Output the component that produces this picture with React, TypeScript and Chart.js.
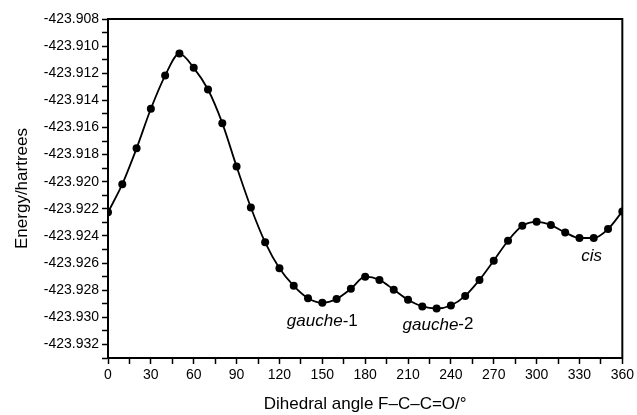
import React, { useEffect, useRef } from "react";
import { Chart, registerables } from "chart.js";

Chart.register(...registerables);

const angles = [0, 10, 20, 30, 40, 50, 60, 70, 80, 90, 100, 110, 120, 130, 140, 150, 160, 170, 180, 190, 200, 210, 220, 230, 240, 250, 260, 270, 280, 290, 300, 310, 320, 330, 340, 350, 360];
const energies = [
  -423.92226, -423.92018, -423.91754, -423.91462, -423.91217, -423.91055, -423.9116, -423.9132, -423.91568, -423.91888,
  -423.9219, -423.92447, -423.92638, -423.92768, -423.92859, -423.92893, -423.92864, -423.9279, -423.927, -423.92724,
  -423.92796, -423.92871, -423.9292, -423.92935, -423.92913, -423.92842, -423.92724, -423.92582, -423.92435, -423.92325,
  -423.92296, -423.9232, -423.92374, -423.92415, -423.92415, -423.92349, -423.92219,
];
const xTickLabels = [0, 30, 60, 90, 120, 150, 180, 210, 240, 270, 300, 330, 360];
const yTickLabels = [-423.908, -423.91, -423.912, -423.914, -423.916, -423.918, -423.92, -423.922, -423.924, -423.926, -423.928, -423.93, -423.932];
const annotations = [
  { italic: "gauche", plain: "-1", x: 150, y: -423.93026 },
  { italic: "gauche", plain: "-2", x: 231, y: -423.93055 },
  { italic: "cis", plain: "", x: 338.5, y: -423.92548 },
];

const FONT = "'Liberation Sans', Arial, Helvetica, sans-serif";

const framePlugin = {
  id: "frameAndLabels",
  afterDatasetsDraw(chart: any) {
    const { ctx, chartArea } = chart;
    ctx.save();
    ctx.strokeStyle = "#000";
    ctx.lineWidth = 2;
    ctx.strokeRect(chartArea.left, chartArea.top, chartArea.right - chartArea.left, chartArea.bottom - chartArea.top);
    const xs = chart.scales.x;
    const ys = chart.scales.y;
    ctx.fillStyle = "#000";
    ctx.textBaseline = "middle";
    for (const a of annotations) {
      ctx.font = `italic 17px ${FONT}`;
      const w1 = ctx.measureText(a.italic).width;
      ctx.font = `17px ${FONT}`;
      const w2 = ctx.measureText(a.plain).width;
      const cx = xs.getPixelForValue(a.x);
      const cy = ys.getPixelForValue(a.y);
      const sx = cx - (w1 + w2) / 2;
      ctx.textAlign = "left";
      ctx.font = `italic 17px ${FONT}`;
      ctx.fillText(a.italic, sx, cy);
      ctx.font = `17px ${FONT}`;
      ctx.fillText(a.plain, sx + w1, cy);
    }
    ctx.restore();
  },
};

export default function App() {
  const ref = useRef<HTMLCanvasElement | null>(null);
  useEffect(() => {
    document.body.style.margin = "0";
    const canvas = ref.current;
    if (!canvas) return;
    const chart = new Chart(canvas, {
      type: "line",
      data: {
        datasets: [
          {
            data: angles.map((a, i) => ({ x: a, y: energies[i] })),
            borderColor: "#000",
            backgroundColor: "#000",
            borderWidth: 1.8,
            pointRadius: 4,
            pointBackgroundColor: "#000",
            pointBorderWidth: 0,
            cubicInterpolationMode: "monotone",
            fill: false,
          },
        ],
      },
      options: {
        animation: false,
        responsive: false,
        maintainAspectRatio: false,
        layout: { padding: { top: 19, right: 14, bottom: 0, left: 0 } },
        plugins: { legend: { display: false }, tooltip: { enabled: false } },
        scales: {
          x: {
            type: "linear",
            min: 0,
            max: 360,
            afterFit: (s: any) => {
              s.height = 57;
            },
            ticks: {
              stepSize: 15,
              autoSkip: false,
              maxRotation: 0,
              padding: 3,
              color: "#000",
              font: { family: FONT, size: 14 },
              callback: (v: any) => (xTickLabels.includes(Math.round(Number(v))) ? String(Math.round(Number(v))) : ""),
            },
            grid: { display: true, drawOnChartArea: false, drawTicks: true, tickLength: 6, tickColor: "#000", tickWidth: 1.5 },
            border: { display: true, color: "#000", width: 2 },
            title: {
              display: true,
              text: "Dihedral angle F–C–C=O/°",
              color: "#000",
              font: { family: FONT, size: 17 },
              padding: { top: 0, bottom: 0 },
            },
          },
          y: {
            type: "linear",
            min: -423.933,
            max: -423.908,
            afterFit: (s: any) => {
              s.width = 108;
            },
            afterBuildTicks: (s: any) => {
              const t = [];
              for (let k = 0; k <= 25; k++) t.push({ value: -423.933 + k * 0.001 });
              s.ticks = t;
            },
            ticks: {
              autoSkip: false,
              padding: 3,
              color: "#000",
              font: { family: FONT, size: 14 },
              callback: (v: any) => {
                const n = Number(v);
                const hit = yTickLabels.find((t) => Math.abs(t - n) < 1e-7);
                return hit !== undefined ? hit.toFixed(3) : "";
              },
            },
            grid: { display: true, drawOnChartArea: false, drawTicks: true, tickLength: 6, tickColor: "#000", tickWidth: 1.5 },
            border: { display: true, color: "#000", width: 2 },
            title: {
              display: true,
              text: "Energy/hartrees",
              color: "#000",
              font: { family: FONT, size: 17 },
              padding: { top: 12, bottom: 0 },
            },
          },
        },
      },
      plugins: [framePlugin],
    } as any);
    return () => chart.destroy();
  }, []);
  return (
    <div style={{ width: 637, height: 415, background: "#fff" }}>
      <canvas ref={ref} width={637} height={415} style={{ display: "block", width: 637, height: 415 }} />
    </div>
  );
}
